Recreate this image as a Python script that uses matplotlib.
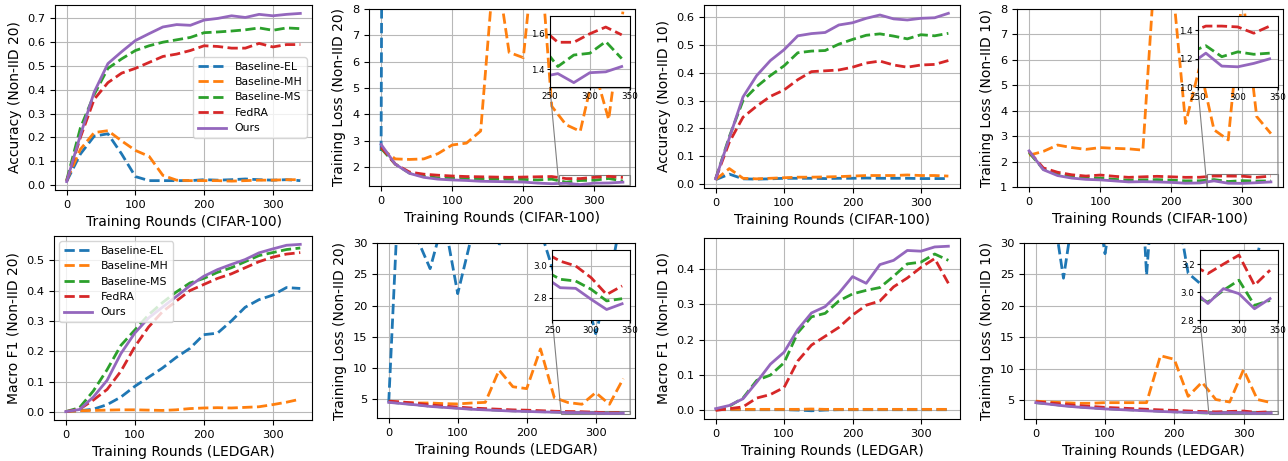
import numpy as np
import matplotlib.pyplot as plt
from mpl_toolkits.axes_grid1.inset_locator import mark_inset
plt.switch_backend("Agg")

ROUNDS = list(range(0, 341, 20))
METHODS = ["Baseline-EL", "Baseline-MH", "Baseline-MS", "FedRA", "Ours"]
COLORS = ["tab:blue", "tab:orange", "tab:green", "tab:red", "tab:purple"]

# --- CIFAR-100, Non-IID 20: accuracy
acc20_el = [0.015, 0.13, 0.205, 0.215, 0.13, 0.035, 0.018, 0.018, 0.018, 0.018, 0.022, 0.02, 0.022, 0.025, 0.022, 0.02, 0.022, 0.018]
acc20_mh = [0.02, 0.15, 0.22, 0.228, 0.185, 0.145, 0.12, 0.04, 0.02, 0.018, 0.018, 0.018, 0.016, 0.018, 0.02, 0.02, 0.022, 0.022]
acc20_ms = [0.02, 0.24, 0.38, 0.49, 0.53, 0.565, 0.585, 0.60, 0.61, 0.62, 0.64, 0.643, 0.647, 0.652, 0.66, 0.65, 0.66, 0.657]
acc20_fedra = [0.015, 0.2, 0.36, 0.43, 0.47, 0.49, 0.515, 0.54, 0.55, 0.565, 0.585, 0.582, 0.575, 0.575, 0.595, 0.58, 0.59, 0.59]
acc20_ours = [0.014, 0.21, 0.39, 0.51, 0.56, 0.607, 0.636, 0.664, 0.674, 0.671, 0.693, 0.70, 0.711, 0.704, 0.717, 0.711, 0.717, 0.721]

# --- CIFAR-100, Non-IID 20: training loss
loss20_el = [2.6, 150, 140, 135, 130, 128, 125, 122, 120, 118, 116, 115, 114, 112, 110, 108, 106, 105]
loss20_mh = [2.7, 2.3, 2.28, 2.3, 2.5, 2.83, 2.9, 3.36, 10.0, 6.35, 6.15, 11.5, 4.3, 3.6, 3.35, 5.7, 3.8, 7.9]
loss20_ms = [2.7, 2.1, 1.76, 1.64, 1.58, 1.56, 1.55, 1.54, 1.53, 1.53, 1.52, 1.50, 1.53, 1.415, 1.48, 1.49, 1.556, 1.46]
loss20_fedra = [2.75, 2.1, 1.8, 1.72, 1.68, 1.65, 1.63, 1.62, 1.61, 1.60, 1.61, 1.62, 1.63, 1.552, 1.552, 1.60, 1.638, 1.594]
loss20_ours = [2.85, 2.1, 1.75, 1.6, 1.53, 1.5, 1.48, 1.45, 1.44, 1.43, 1.42, 1.38, 1.357, 1.375, 1.324, 1.38, 1.385, 1.415]

# --- CIFAR-100, Non-IID 10: accuracy
acc10_el = [0.015, 0.035, 0.018, 0.017, 0.018, 0.02, 0.02, 0.02, 0.019, 0.02, 0.02, 0.021, 0.02, 0.02, 0.02, 0.019, 0.019, 0.019]
acc10_mh = [0.015, 0.055, 0.02, 0.018, 0.02, 0.022, 0.024, 0.024, 0.025, 0.026, 0.028, 0.03, 0.03, 0.03, 0.032, 0.03, 0.03, 0.028]
acc10_ms = [0.018, 0.17, 0.30, 0.35, 0.39, 0.425, 0.472, 0.478, 0.48, 0.503, 0.52, 0.535, 0.54, 0.532, 0.522, 0.537, 0.533, 0.542]
acc10_fedra = [0.018, 0.15, 0.24, 0.28, 0.315, 0.338, 0.375, 0.404, 0.407, 0.41, 0.42, 0.435, 0.442, 0.428, 0.42, 0.428, 0.43, 0.444]
acc10_ours = [0.018, 0.165, 0.313, 0.39, 0.444, 0.483, 0.533, 0.541, 0.545, 0.572, 0.58, 0.596, 0.608, 0.594, 0.59, 0.596, 0.598, 0.614]

# --- CIFAR-100, Non-IID 10: training loss
loss10_el = [40, 45, 50, 55, 60, 62, 64, 66, 68, 70, 71, 72, 73, 74, 75, 76, 77, 78]
loss10_mh = [2.25, 2.4, 2.65, 2.55, 2.48, 2.55, 2.52, 2.5, 2.45, 11.0, 9.5, 3.5, 5.75, 3.25, 2.85, 8.6, 3.77, 3.1]
loss10_ms = [2.35, 1.7, 1.5, 1.4, 1.35, 1.35, 1.3, 1.27, 1.28, 1.29, 1.27, 1.24, 1.244, 1.292, 1.215, 1.249, 1.232, 1.24]
loss10_fedra = [2.4, 1.75, 1.58, 1.48, 1.43, 1.47, 1.42, 1.38, 1.4, 1.42, 1.4, 1.38, 1.384, 1.43, 1.43, 1.424, 1.38, 1.43]
loss10_ours = [2.42, 1.68, 1.45, 1.35, 1.3, 1.28, 1.24, 1.2, 1.21, 1.2, 1.18, 1.15, 1.16, 1.24, 1.149, 1.144, 1.168, 1.2]

# --- LEDGAR, Non-IID 20: macro F1
f120_el = [0.002, 0.005, 0.01, 0.025, 0.05, 0.085, 0.115, 0.145, 0.18, 0.21, 0.255, 0.26, 0.3, 0.345, 0.37, 0.385, 0.41, 0.407]
f120_mh = [0.002, 0.005, 0.006, 0.007, 0.008, 0.008, 0.007, 0.006, 0.008, 0.012, 0.014, 0.015, 0.014, 0.016, 0.018, 0.025, 0.033, 0.043]
f120_ms = [0.002, 0.015, 0.07, 0.14, 0.22, 0.27, 0.32, 0.36, 0.395, 0.425, 0.44, 0.46, 0.475, 0.495, 0.515, 0.525, 0.535, 0.54]
f120_fedra = [0.002, 0.01, 0.04, 0.075, 0.135, 0.215, 0.28, 0.33, 0.365, 0.40, 0.42, 0.44, 0.455, 0.475, 0.495, 0.51, 0.52, 0.525]
f120_ours = [0.002, 0.009, 0.05, 0.105, 0.193, 0.26, 0.31, 0.345, 0.38, 0.416, 0.447, 0.469, 0.486, 0.502, 0.524, 0.537, 0.549, 0.552]

# --- LEDGAR, Non-IID 20: training loss
lloss20_el = [4.5, 52, 31, 25.9, 34, 21.9, 31, 45, 29.5, 50, 45, 32, 25, 27, 24, 15.5, 24, 36]
lloss20_mh = [4.6, 4.5, 4.4, 4.4, 4.3, 4.25, 4.4, 4.5, 9.66, 7.0, 6.7, 13.05, 5.26, 4.47, 4.2, 6.06, 4.2, 8.3]
lloss20_ms = [4.55, 4.35, 4.15, 3.9, 3.75, 3.6, 3.45, 3.35, 3.25, 3.15, 3.08, 3.02, 2.97, 2.916, 2.905, 2.853, 2.78, 2.794]
lloss20_fedra = [4.7, 4.55, 4.35, 4.1, 3.9, 3.75, 3.6, 3.5, 3.4, 3.3, 3.25, 3.17, 3.084, 3.03, 3.0, 2.926, 2.82, 2.874]
lloss20_ours = [4.5, 4.3, 4.1, 3.85, 3.7, 3.55, 3.4, 3.3, 3.2, 3.1, 3.05, 2.98, 2.93, 2.863, 2.859, 2.79, 2.726, 2.762]

# --- LEDGAR, Non-IID 10: macro F1
f110_el = [0.002, 0.002, 0.002, 0.002, 0.002, 0.002, 0.001, -0.001, 0.001, 0.002, 0.002, 0.002, 0.002, 0.002, 0.002, 0.002, 0.002, 0.002]
f110_mh = [0.002, 0.003, 0.003, 0.003, 0.003, 0.003, 0.003, 0.004, 0.003, 0.003, 0.003, 0.003, 0.003, 0.003, 0.003, 0.003, 0.003, 0.003]
f110_ms = [0.002, 0.012, 0.035, 0.085, 0.10, 0.135, 0.22, 0.265, 0.275, 0.31, 0.33, 0.34, 0.348, 0.38, 0.415, 0.42, 0.443, 0.425]
f110_fedra = [0.0, 0.005, 0.01, 0.035, 0.045, 0.065, 0.14, 0.185, 0.21, 0.235, 0.27, 0.298, 0.31, 0.35, 0.375, 0.405, 0.43, 0.36]
f110_ours = [0.005, 0.014, 0.033, 0.08, 0.131, 0.165, 0.229, 0.276, 0.294, 0.332, 0.379, 0.36, 0.413, 0.425, 0.453, 0.451, 0.463, 0.465]

# --- LEDGAR, Non-IID 10: training loss
lloss10_el = [40, 39, 24.4, 39, 42, 28.3, 42, 66, 24.9, 55, 38, 25.2, 23.3, 25, 24, 22, 28, 38]
lloss10_mh = [4.84, 4.7, 4.6, 4.5, 4.5, 4.6, 4.6, 4.6, 4.6, 12.07, 11.5, 5.6, 7.85, 5.1, 4.7, 9.85, 5.1, 4.6]
lloss10_ms = [4.6, 4.4, 4.15, 3.95, 3.8, 3.65, 3.55, 3.45, 3.35, 3.25, 3.15, 3.07, 2.98, 2.93, 3.014, 3.086, 2.907, 2.943]
lloss10_fedra = [4.75, 4.55, 4.35, 4.15, 4.0, 3.85, 3.75, 3.65, 3.55, 3.45, 3.37, 3.28, 3.195, 3.133, 3.2, 3.264, 3.05, 3.157]
lloss10_ours = [4.6, 4.35, 4.1, 3.9, 3.75, 3.6, 3.5, 3.4, 3.3, 3.2, 3.12, 3.06, 3.02, 2.92, 3.026, 2.99, 2.883, 2.955]

W, H = 1288, 461


def rect(l, t, r, b):
    # pixel box -> figure fraction
    return [l / W, 1 - b / H, (r - l) / W, (b - t) / H]


def draw_lines(ax, series):
    for name, col, vals in zip(METHODS, COLORS, series):
        ls = "-" if name == "Ours" else "--"
        ax.plot(ROUNDS, vals, ls, color=col, lw=2, label=name)


def panel(fig, box, series, ylabel, xlabel, ylim=None, legend=None, inset=None):
    ax = fig.add_axes(rect(*box))
    draw_lines(ax, series)
    ax.grid(True, color="#b8b8b8", lw=0.8)
    ax.set_axisbelow(True)
    ax.set_ylabel(ylabel, fontsize=10)
    ax.set_xlabel(xlabel, fontsize=10)
    ax.tick_params(labelsize=8.2)
    ax.set_xticks([0, 100, 200, 300])
    if ylim is not None:
        ax.set_ylim(*ylim)
    if legend is not None:
        ax.legend(loc=legend, fontsize=7.8, handlelength=2.6)
    if inset is not None:
        ylo, yhi, yt = inset
        axins = ax.inset_axes([0.68, 0.56, 0.30, 0.40])
        draw_lines(axins, series)
        axins.set_xlim(250, 350)
        axins.set_ylim(ylo, yhi)
        axins.set_xticks([250, 300, 350])
        axins.set_yticks(yt)
        axins.grid(True, color="#b8b8b8", lw=0.8)
        axins.tick_params(labelsize=6.3, length=2.5, pad=1.5)
        mark_inset(ax, axins, loc1=3, loc2=4, fc="none", ec="0.5", lw=0.8)
    return ax


fig = plt.figure(figsize=(W / 100, H / 100), dpi=100)

panel(fig, (55, 5, 312, 190),
      [acc20_el, acc20_mh, acc20_ms, acc20_fedra, acc20_ours],
      "Accuracy (Non-IID 20)", "Training Rounds (CIFAR-100)", legend="center right")
panel(fig, (369, 9, 635, 186),
      [loss20_el, loss20_mh, loss20_ms, loss20_fedra, loss20_ours],
      "Training Loss (Non-IID 20)", "Training Rounds (CIFAR-100)",
      ylim=(1.27, 8), inset=(1.3, 1.7, [1.4, 1.6]))
panel(fig, (704, 5, 960, 188),
      [acc10_el, acc10_mh, acc10_ms, acc10_fedra, acc10_ours],
      "Accuracy (Non-IID 10)", "Training Rounds (CIFAR-100)")
panel(fig, (1017, 9, 1283, 187),
      [loss10_el, loss10_mh, loss10_ms, loss10_fedra, loss10_ours],
      "Training Loss (Non-IID 10)", "Training Rounds (CIFAR-100)",
      ylim=(1, 8), inset=(1.0, 1.5, [1.0, 1.2, 1.4]))

panel(fig, (54, 236, 312, 420),
      [f120_el, f120_mh, f120_ms, f120_fedra, f120_ours],
      "Macro F1 (Non-IID 20)", "Training Rounds (LEDGAR)", legend="upper left")
panel(fig, (377, 243, 635, 418),
      [lloss20_el, lloss20_mh, lloss20_ms, lloss20_fedra, lloss20_ours],
      "Training Loss (Non-IID 20)", "Training Rounds (LEDGAR)",
      ylim=(2, 30), inset=(2.66, 3.1, [2.8, 3.0]))
panel(fig, (704, 238, 960, 419),
      [f110_el, f110_mh, f110_ms, f110_fedra, f110_ours],
      "Macro F1 (Non-IID 10)", "Training Rounds (LEDGAR)")
panel(fig, (1024, 243, 1283, 419),
      [lloss10_el, lloss10_mh, lloss10_ms, lloss10_fedra, lloss10_ours],
      "Training Loss (Non-IID 10)", "Training Rounds (LEDGAR)",
      ylim=(2, 30), inset=(2.8, 3.3, [2.8, 3.0, 3.2]))

fig.savefig("out.png", dpi=100)
plt.close(fig)
